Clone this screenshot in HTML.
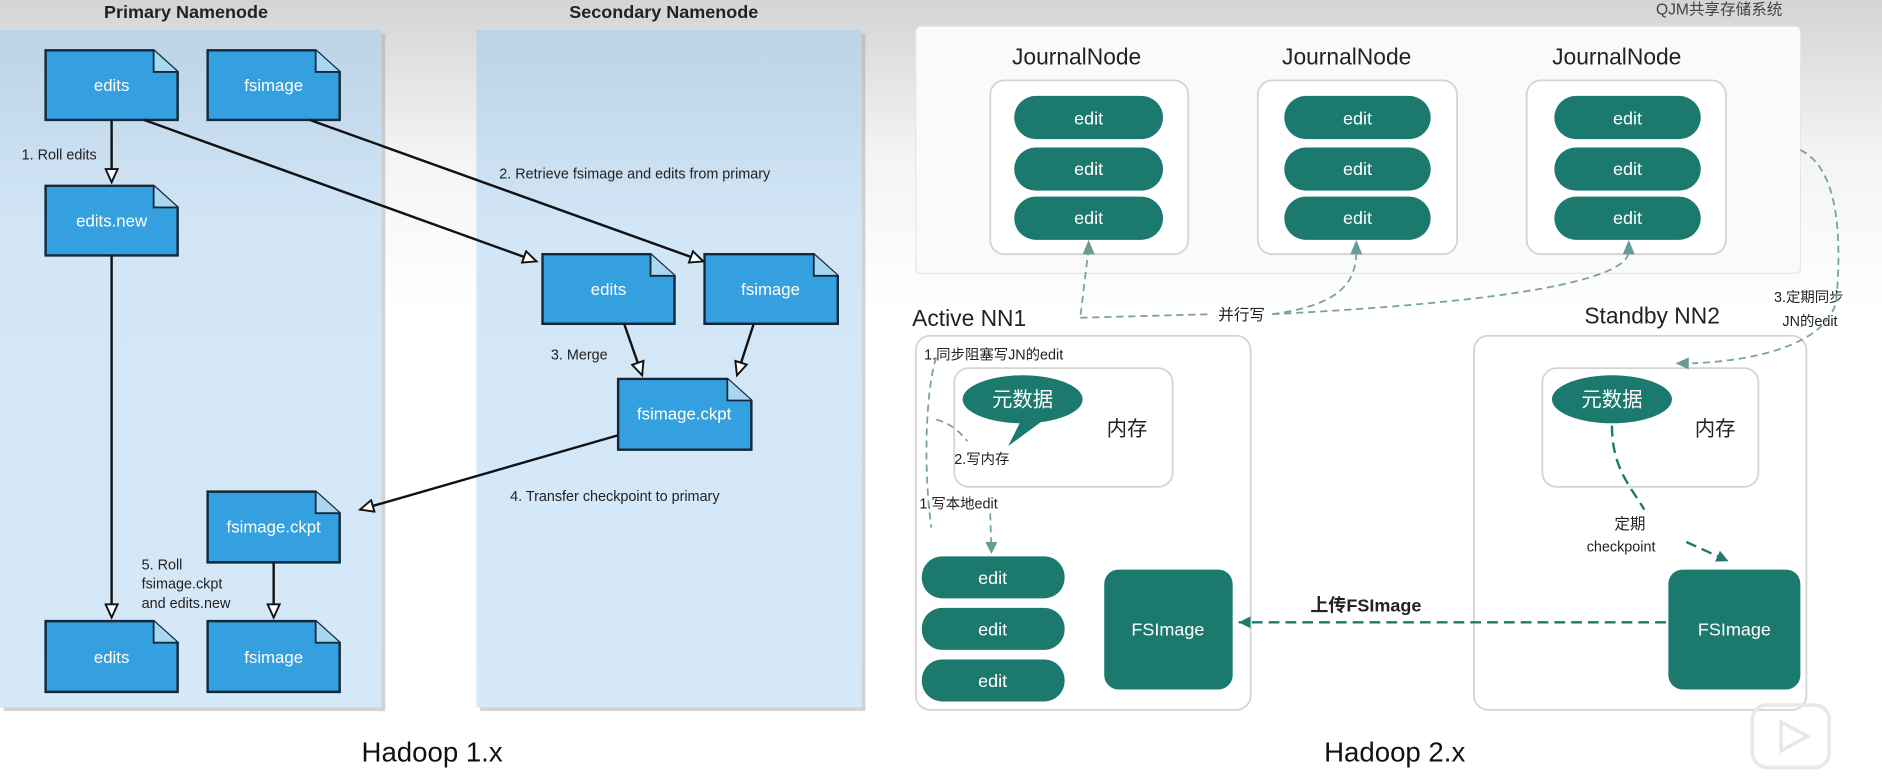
<!DOCTYPE html>
<html><head><meta charset="utf-8"><style>
html,body{margin:0;padding:0;background:#fff;overflow:hidden}
svg{display:block}
text{font-family:"Liberation Sans","Noto Sans CJK SC",sans-serif}
</style></head><body>
<svg width="1882" height="783" viewBox="0 0 1568 653" preserveAspectRatio="none" xmlns="http://www.w3.org/2000/svg">
<defs>
<linearGradient id="bg" x1="0" y1="0" x2="0" y2="1"><stop offset="0" stop-color="#d4d4d4"/><stop offset="0.2" stop-color="#f4f4f4"/><stop offset="0.4" stop-color="#fff"/></linearGradient>
<linearGradient id="pn" x1="0" y1="0" x2="0" y2="1"><stop offset="0" stop-color="#bcd3e6"/><stop offset="0.3" stop-color="#d2e6f6"/><stop offset="1" stop-color="#d6e9f8"/></linearGradient>
<marker id="tri" markerWidth="14" markerHeight="12" refX="12" refY="6" orient="auto" markerUnits="userSpaceOnUse"><path d="M1,1 L12,6 L1,11 Z" fill="#fff" stroke="#111" stroke-width="1.6"/></marker>
<marker id="tk" markerWidth="12" markerHeight="12" refX="10" refY="6" orient="auto" markerUnits="userSpaceOnUse"><path d="M0,1 L10,6 L0,11 Z" fill="#1f7a6e"/></marker>
<marker id="gk" markerWidth="12" markerHeight="12" refX="10" refY="6" orient="auto" markerUnits="userSpaceOnUse"><path d="M0,1 L10,6 L0,11 Z" fill="#6a9a94"/></marker>
</defs>
<rect width="1568" height="653" fill="url(#bg)"/>
<!-- panels -->
<rect x="3" y="28" width="318" height="565" fill="#a8a8a8" opacity="0.5"/>
<rect x="0" y="25" width="318" height="565" fill="url(#pn)"/>
<rect x="400" y="28" width="321" height="565" fill="#a8a8a8" opacity="0.5"/>
<rect x="397" y="25" width="321" height="565" fill="url(#pn)"/>
<text x="155" y="15" font-size="15" font-weight="bold" text-anchor="middle" fill="#222">Primary Namenode</text>
<text x="553" y="15" font-size="15" font-weight="bold" text-anchor="middle" fill="#222">Secondary Namenode</text>
<!-- docs -->
<g stroke="#1a2a3a" stroke-width="2" font-size="14">
<g id="d"></g>
</g>
<g font-size="14" fill="#fff" text-anchor="middle">
<path d="M38,42 H128 L148,60 V100 H38 Z" fill="#34a0e0" stroke="#13283a" stroke-width="2"/><path d="M128,42 V60 H148" fill="#a9d7f2" stroke="#13283a" stroke-width="1.5"/><text x="93" y="76">edits</text>
<path d="M173,42 H263 L283,60 V100 H173 Z" fill="#34a0e0" stroke="#13283a" stroke-width="2"/><path d="M263,42 V60 H283" fill="#a9d7f2" stroke="#13283a" stroke-width="1.5"/><text x="228" y="76">fsimage</text>
<path d="M38,155 H128 L148,173 V213 H38 Z" fill="#34a0e0" stroke="#13283a" stroke-width="2"/><path d="M128,155 V173 H148" fill="#a9d7f2" stroke="#13283a" stroke-width="1.5"/><text x="93" y="189">edits.new</text>
<path d="M452,212 H542 L562,230 V270 H452 Z" fill="#34a0e0" stroke="#13283a" stroke-width="2"/><path d="M542,212 V230 H562" fill="#a9d7f2" stroke="#13283a" stroke-width="1.5"/><text x="507" y="246">edits</text>
<path d="M587,212 H678 L698,230 V270 H587 Z" fill="#34a0e0" stroke="#13283a" stroke-width="2"/><path d="M678,212 V230 H698" fill="#a9d7f2" stroke="#13283a" stroke-width="1.5"/><text x="642" y="246">fsimage</text>
<path d="M515,316 H606 L626,334 V375 H515 Z" fill="#34a0e0" stroke="#13283a" stroke-width="2"/><path d="M606,316 V334 H626" fill="#a9d7f2" stroke="#13283a" stroke-width="1.5"/><text x="570" y="350">fsimage.ckpt</text>
<path d="M173,410 H263 L283,428 V469 H173 Z" fill="#34a0e0" stroke="#13283a" stroke-width="2"/><path d="M263,410 V428 H283" fill="#a9d7f2" stroke="#13283a" stroke-width="1.5"/><text x="228" y="444">fsimage.ckpt</text>
<path d="M38,518 H128 L148,536 V577 H38 Z" fill="#34a0e0" stroke="#13283a" stroke-width="2"/><path d="M128,518 V536 H148" fill="#a9d7f2" stroke="#13283a" stroke-width="1.5"/><text x="93" y="553">edits</text>
<path d="M173,518 H263 L283,536 V577 H173 Z" fill="#34a0e0" stroke="#13283a" stroke-width="2"/><path d="M263,518 V536 H283" fill="#a9d7f2" stroke="#13283a" stroke-width="1.5"/><text x="228" y="553">fsimage</text>
</g>
<g stroke="#111" stroke-width="2" fill="none" marker-end="url(#tri)">
<line x1="93" y1="100" x2="93" y2="152"/>
<line x1="93" y1="213" x2="93" y2="515"/>
<line x1="120" y1="100" x2="447" y2="218"/>
<line x1="258" y1="100" x2="586" y2="218"/>
<line x1="520" y1="270" x2="535" y2="313"/>
<line x1="628" y1="270" x2="614" y2="313"/>
<line x1="515" y1="363" x2="300" y2="425"/>
<line x1="228" y1="469" x2="228" y2="515"/>
</g>
<g font-size="12" fill="#222">
<text x="18" y="133">1. Roll edits</text>
<text x="416" y="149">2. Retrieve fsimage and edits from primary</text>
<text x="459" y="300">3. Merge</text>
<text x="425" y="418">4. Transfer checkpoint to primary</text>
<text x="118" y="475">5. Roll</text>
<text x="118" y="491">fsimage.ckpt</text>
<text x="118" y="507">and edits.new</text>
</g>
<text x="360" y="635" font-size="23" text-anchor="middle" fill="#111">Hadoop 1.x</text>

<!-- Hadoop 2.x -->
<rect x="763" y="22" width="737" height="206" fill="#fafafa" stroke="#e6e6e6" stroke-width="1" rx="4"/>
<text x="1485" y="12" font-size="13" text-anchor="end" fill="#444">QJM共享存储系统</text>
<g font-size="19" fill="#222" text-anchor="middle">
<text x="897" y="54">JournalNode</text><text x="1122" y="54">JournalNode</text><text x="1347" y="54">JournalNode</text>
</g>
<g fill="#fff" stroke="#d4d4d4" stroke-width="1.5">
<rect x="825" y="67" width="165" height="145" rx="12"/>
<rect x="1048" y="67" width="166" height="145" rx="12"/>
<rect x="1272" y="67" width="166" height="145" rx="12"/>
</g>
<g fill="#1b7a6d">
<rect x="845" y="80" width="124" height="36" rx="18"/><rect x="845" y="123" width="124" height="36" rx="18"/><rect x="845" y="164" width="124" height="36" rx="18"/>
<rect x="1070" y="80" width="122" height="36" rx="18"/><rect x="1070" y="123" width="122" height="36" rx="18"/><rect x="1070" y="164" width="122" height="36" rx="18"/>
<rect x="1295" y="80" width="122" height="36" rx="18"/><rect x="1295" y="123" width="122" height="36" rx="18"/><rect x="1295" y="164" width="122" height="36" rx="18"/>
</g>
<g fill="#fff" font-size="15" text-anchor="middle">
<text x="907" y="104">edit</text><text x="907" y="146">edit</text><text x="907" y="187">edit</text>
<text x="1131" y="104">edit</text><text x="1131" y="146">edit</text><text x="1131" y="187">edit</text>
<text x="1356" y="104">edit</text><text x="1356" y="146">edit</text><text x="1356" y="187">edit</text>
</g>
<!-- NN boxes -->
<rect x="763" y="280" width="279" height="312" rx="12" fill="#fff" stroke="#d4d4d4" stroke-width="1.5"/>
<rect x="1228" y="280" width="277" height="312" rx="12" fill="#fff" stroke="#d4d4d4" stroke-width="1.5"/>
<text x="760" y="272" font-size="19" fill="#222">Active NN1</text>
<text x="1320" y="270" font-size="19" fill="#222">Standby NN2</text>
<rect x="795" y="307" width="182" height="99" rx="12" fill="#fff" stroke="#d4d4d4" stroke-width="1.5"/>
<rect x="1285" y="307" width="180" height="99" rx="12" fill="#fff" stroke="#d4d4d4" stroke-width="1.5"/>
<ellipse cx="852" cy="333" rx="50" ry="20" fill="#1b7a6d"/>
<path d="M852,348 L840,372 L870,350 Z" fill="#1b7a6d"/>
<ellipse cx="1343" cy="333" rx="50" ry="20" fill="#1b7a6d"/>
<g font-size="17" fill="#fff" text-anchor="middle"><text x="852" y="339">元数据</text><text x="1343" y="339">元数据</text></g>
<g font-size="17" fill="#222"><text x="922" y="363">内存</text><text x="1412" y="363">内存</text></g>
<g font-size="12" fill="#222">
<text x="770" y="300">1.同步阻塞写JN的edit</text>
<text x="795" y="387">2.写内存</text>
<text x="766" y="424">1.写本地edit</text>
<text x="1015" y="267" font-size="13">并行写</text>
<text x="1478" y="252">3.定期同步</text>
<text x="1485" y="272">JN的edit</text>
<text x="1345" y="441" font-size="13">定期</text>
<text x="1322" y="460">checkpoint</text>
</g>
<g fill="#1b7a6d">
<rect x="768" y="464" width="119" height="35" rx="17"/><rect x="768" y="507" width="119" height="35" rx="17"/><rect x="768" y="550" width="119" height="35" rx="17"/>
<rect x="920" y="475" width="107" height="100" rx="12"/>
<rect x="1390" y="475" width="110" height="100" rx="12"/>
</g>
<g fill="#fff" font-size="15" text-anchor="middle">
<text x="827" y="487">edit</text><text x="827" y="530">edit</text><text x="827" y="573">edit</text>
<text x="973" y="530">FSImage</text><text x="1445" y="530">FSImage</text>
</g>
<text x="1138" y="510" font-size="15" font-weight="bold" fill="#222" text-anchor="middle">上传FSImage</text>
<!-- dashed connectors -->
<g fill="none" stroke="#7aa39d" stroke-width="1.5" stroke-dasharray="6,4">
<path d="M907,207 L900,265" marker-end="" />
<path d="M900,265 L1010,262 M1060,262 C1110,255 1130,240 1130,210"/>
<path d="M1060,262 C1200,255 1355,240 1357,210"/>
<path d="M780,298 C770,330 770,400 776,440"/>
<path d="M780,350 C790,352 800,360 806,368"/>
<path d="M825,428 L826,458"/>
<path d="M1500,125 C1530,140 1535,190 1530,250 C1525,280 1480,300 1410,303"/>
</g>
<g fill="#6a9a94">
<path d="M907,200 L902,212 L912,212 Z"/><path d="M1130,200 L1125,212 L1135,212 Z"/><path d="M1357,200 L1352,212 L1362,212 Z"/>
<path d="M826,462 L821,452 L831,452 Z"/><path d="M1396,303 L1407,298 L1407,308 Z"/>
</g>
<g fill="none" stroke="#1b7a6d" stroke-width="2" stroke-dasharray="9,5">
<path d="M1343,355 C1343,390 1358,405 1370,425"/>
<path d="M1405,452 L1440,468" marker-end="url(#tk)"/>
<path d="M1388,519 L1032,519" marker-end="url(#tk)"/>
</g>
<text x="1162" y="635" font-size="23" text-anchor="middle" fill="#111">Hadoop 2.x</text>
<rect x="1460" y="588" width="64" height="52" rx="12" fill="none" stroke="#e8e8e8" stroke-width="3"/>
<path d="M1484,602 L1506,614 L1484,626 Z" fill="none" stroke="#e8e8e8" stroke-width="3"/>
</svg>
</body></html>
